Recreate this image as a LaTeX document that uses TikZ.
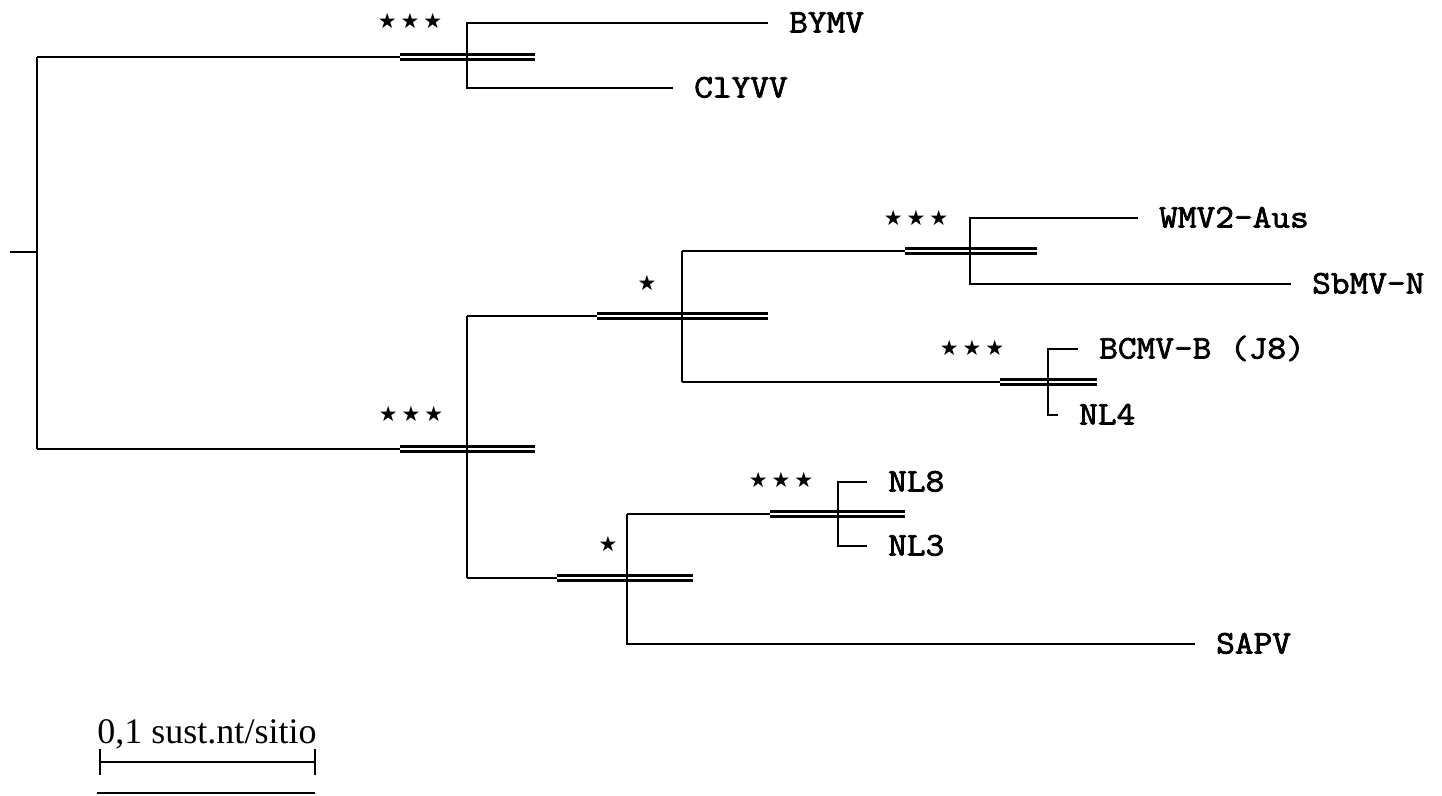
\documentclass[tikz,border=0pt]{standalone}
\usepackage{fontspec}
\setmonofont{Latin Modern Mono}[FakeBold=2.2, FakeStretch=1.1]
\newfontfamily\scalefam{Liberation Serif}
\newfontfamily\starfam{DejaVu Sans}
\usetikzlibrary{positioning}
\newcommand\onestar{{\starfam ★}}
\newcommand\threestars{\onestar\hspace{4pt}\onestar\hspace{4pt}\onestar}
\tikzset{
  branch/.style={line width=2.6pt},
  cibar/.style={
    double,
    line width=2.2pt,
    double distance=2.8pt
  },
  taxon/.style={
    inner sep=0pt,
    text height=19pt,
    text depth=0pt,
    font=\ttfamily\fontsize{33}{36}\selectfont
  },
  support/.style={
    inner sep=0pt,
    font=\fontsize{21}{24}\selectfont
  }
}

\begin{document}
\begin{tikzpicture}[x=1pt,y=-1pt, node distance=21pt]
  \useasboundingbox (0,0) rectangle (1442,795);

  % tree nodes
  \coordinate (root) at (37,252);
  \coordinate (stub) at (10,252);
  \coordinate (nA) at (467,57);
  \coordinate (nB) at (467,449);
  \coordinate (nC) at (682,316);
  \coordinate (nD) at (970,251);
  \coordinate (nE) at (1048,382);
  \coordinate (nF) at (627,578);
  \coordinate (nG) at (838,514);

  % leaf tips
  \coordinate (tBYMV) at (768,23);
  \coordinate (tClYVV) at (673,88);
  \coordinate (tWMV) at (1138,218);
  \coordinate (tSbMV) at (1291,284);
  \coordinate (tBCMV) at (1078,349);
  \coordinate (tNLfour) at (1058,415);
  \coordinate (tNLeight) at (867,482);
  \coordinate (tNLthree) at (867,546);
  \coordinate (tSAPV) at (1195,644);

  % taxa
  \node[taxon, right=of tBYMV] (BYMV) {BYMV};
  \node[taxon, right=of tClYVV] (ClYVV) {ClYVV};
  \node[taxon, right=of tWMV] (WMV) {WMV2-Aus};
  \node[taxon, right=of tSbMV] (SbMV) {SbMV-N};
  \node[taxon, right=of tBCMV] (BCMV) {BCMV-B (J8)};
  \node[taxon, right=of tNLfour] (NLfour) {NL4};
  \node[taxon, right=of tNLeight] (NLeight) {NL8};
  \node[taxon, right=of tNLthree] (NLthree) {NL3};
  \node[taxon, right=of tSAPV] (SAPV) {SAPV};

  % stem branches
  \draw[branch] (stub) -- (root);
  \draw[branch] (root |- nA) -- (nA);
  \draw[branch] (root |- nB) -- (nB);
  \draw[branch] (nB |- nC) -- (nC);
  \draw[branch] (nB |- nF) -- (nF);
  \draw[branch] (nC |- nD) -- (nD);
  \draw[branch] (nC |- nE) -- (nE);
  \draw[branch] (nF |- nG) -- (nG);

  % intervals
  \draw[cibar] ([xshift=-67pt]nA) -- ([xshift=68pt]nA);
  \draw[cibar] ([xshift=-67pt]nB) -- ([xshift=68pt]nB);
  \draw[cibar] ([xshift=-85pt]nC) -- ([xshift=86pt]nC);
  \draw[cibar] ([xshift=-65pt]nD) -- ([xshift=67pt]nD);
  \draw[cibar] ([xshift=-48pt]nE) -- ([xshift=49pt]nE);
  \draw[cibar] ([xshift=-70pt]nF) -- ([xshift=66pt]nF);
  \draw[cibar] ([xshift=-68pt]nG) -- ([xshift=67pt]nG);

  % verticals and terminal branches
  \draw[branch] (root |- nA) -- (root |- nB);
  \draw[branch] (tBYMV) -| (nA |- tClYVV) -- (tClYVV);
  \draw[branch] (nB |- nC) -- (nB |- nF);
  \draw[branch] (nC |- nD) -- (nC |- nE);
  \draw[branch] (tWMV) -| (nD |- tSbMV) -- (tSbMV);
  \draw[branch] (tBCMV) -| (nE |- tNLfour) -- (tNLfour);
  \draw[branch] (nF |- nG) -- (nF |- tSAPV) -- (tSAPV);
  \draw[branch] (tNLeight) -| (nG |- tNLthree) -- (tNLthree);

  % support values
  \node[support] (sA) at (410,21) {\threestars};
  \node[support] (sB) at (411,414) {\threestars};
  \node[support] (sC) at (647,283) {\onestar};
  \node[support] (sD) at (916,218) {\threestars};
  \node[support] (sE) at (972,348) {\threestars};
  \node[support] (sF) at (608,544) {\onestar};
  \node[support] (sG) at (781,480) {\threestars};

  % scale
  \coordinate (sL) at (100,762);
  \coordinate (sR) at (315,762);
  \node[font=\scalefam\fontsize{36}{40}\selectfont, inner sep=0pt, anchor=base] (scale) at (207,743) {0,1 sust.nt/sitio};
  \draw[branch] (sL) -- (sR);
  \draw[branch] ([yshift=13pt]sL) -- ([yshift=-13pt]sL);
  \draw[branch] ([yshift=13pt]sR) -- ([yshift=-13pt]sR);
  \draw[line width=1.8pt] (97,793) -- (315,793);
\end{tikzpicture}
\end{document}
